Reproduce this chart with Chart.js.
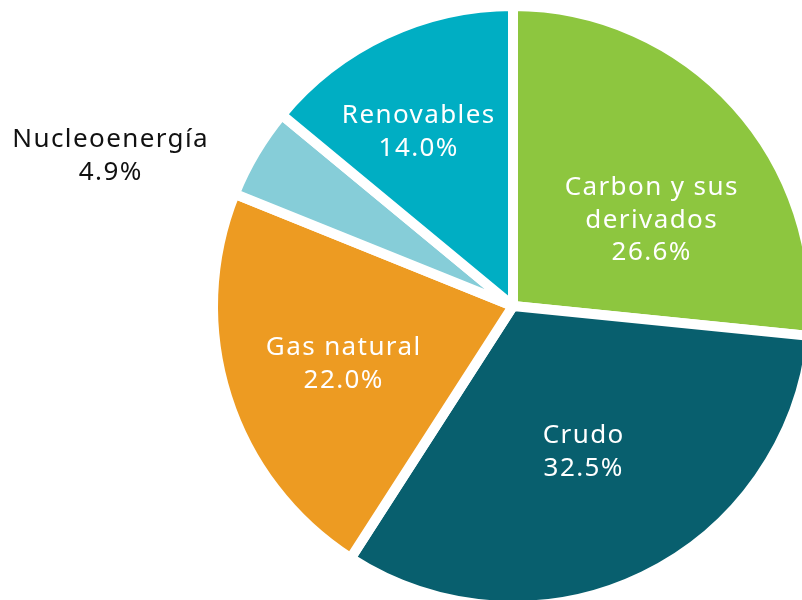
<!DOCTYPE html>
<html>
<head>
<meta charset="utf-8">
<script src="https://cdn.jsdelivr.net/npm/chart.js@4.4.0/dist/chart.umd.min.js"></script>
<style>
  html, body { margin: 0; padding: 0; background: #fff; overflow: hidden; }
  #wrap { position: absolute; left: 0; top: 0; width: 1026px; height: 612px; }
</style>
</head>
<body>
<div id="wrap"><canvas id="energy-pie" width="1026" height="612"></canvas></div>
<script>
// energy mix, percent
const sources = ['Carbon y sus derivados', 'Crudo', 'Gas natural', 'Nucleoenergía', 'Renovables'];
const shares = [26.6, 32.5, 22.0, 4.9, 14.0];
const sliceColors = ['#8dc63f', '#085f6e', '#ed9b22', '#86cdd8', '#00aec3'];

// label text broken into lines, and where each block sits
const labelLines = [['Carbon y sus', 'derivados'], ['Crudo'], ['Gas natural'], ['Nucleoenergía'], ['Renovables']];
const labelPos = [[651, 188], [583, 436], [343, 348], [110, 140], [418, 116]];
const labelColors = ['#fff', '#fff', '#fff', '#111', '#fff'];

const sliceLabels = {
    id: 'sliceLabels',
    afterDraw(chart) {
        const ctx = chart.ctx;
        ctx.save();
        ctx.font = '26px "Noto Sans", sans-serif';
        ctx.letterSpacing = '1.4px';
        ctx.textAlign = 'center';
        ctx.textBaseline = 'middle';
        shares.forEach((v, i) => {
            const lines = labelLines[i].concat([v.toFixed(1) + '%']);
            ctx.fillStyle = labelColors[i];
            lines.forEach((t, k) => {
                ctx.fillText(t, labelPos[i][0] + 0.7, labelPos[i][1] + k * 32.5);
            });
        });
        ctx.restore();
    }
};

const ctx = document.getElementById('energy-pie').getContext('2d');
new Chart(ctx, {
    type: 'pie',
    data: {
        labels: sources,
        datasets: [{
            data: shares,
            backgroundColor: sliceColors,
            borderColor: '#ffffff',
            borderWidth: 10,
            radius: 300
        }]
    },
    options: {
        responsive: false,
        animation: false,
        events: [],
        layout: { padding: 0 },
        plugins: {
            legend: { display: false },
            tooltip: { enabled: false }
        }
    },
    plugins: [sliceLabels]
});
</script>
</body>
</html>
